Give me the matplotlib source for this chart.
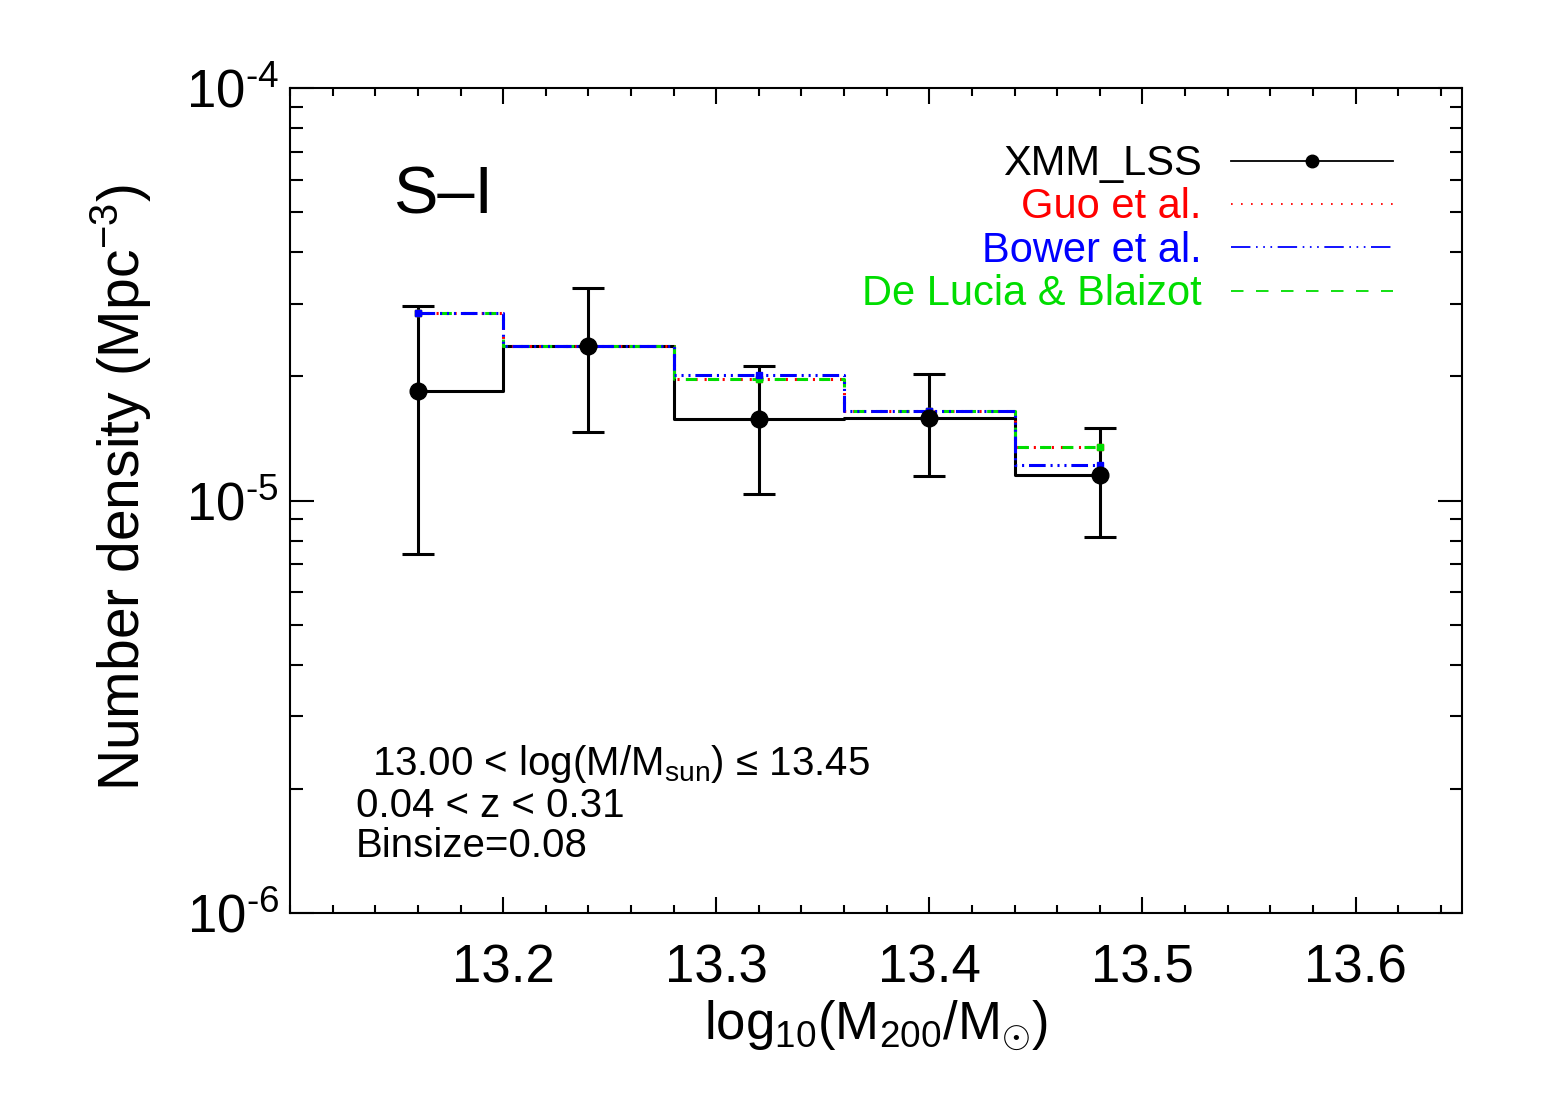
import matplotlib
matplotlib.use('Agg')
import matplotlib.pyplot as plt
from matplotlib.lines import Line2D
from matplotlib.ticker import MultipleLocator, LogLocator, FuncFormatter
import numpy as np

plt.rcParams['font.family'] = ['Liberation Sans', 'DejaVu Sans']
plt.rcParams['mathtext.fontset'] = 'custom'
plt.rcParams['mathtext.rm'] = 'Liberation Sans'
plt.rcParams['mathtext.it'] = 'Liberation Sans'
plt.rcParams['lines.scale_dashes'] = False

# bin centres (log10 M200)
mass = [13.16, 13.24, 13.32, 13.40, 13.48]

# XMM_LSS number density and error bar limits
xmm = [1.843e-5, 2.37e-5, 1.58e-5, 1.582e-5, 1.153e-5]
xmm_hi = [2.96e-5, 3.27e-5, 2.12e-5, 2.03e-5, 1.496e-5]
xmm_lo = [7.41e-6, 1.47e-5, 1.04e-5, 1.147e-5, 8.15e-6]

# semi-analytic models
guo = [2.85e-5, 2.37e-5, 1.97e-5, 1.65e-5, 1.35e-5]
bower = [2.85e-5, 2.37e-5, 2.01e-5, 1.65e-5, 1.217e-5]
delucia = [2.85e-5, 2.37e-5, 1.97e-5, 1.65e-5, 1.35e-5]

labels = ['XMM_LSS', 'Guo et al.', 'Bower et al.', 'De Lucia & Blaizot']
colors = ['black', '#ff0000', '#0000ff', '#00dd00']
xticks = [13.2, 13.3, 13.4, 13.5, 13.6]

fig = plt.figure(figsize=(15.46, 10.99), dpi=100)
ax = fig.add_axes([0.1876, 0.1692, 0.7581, 0.7507])

# XMM histogram with error bars
ax.step(mass, xmm, where='mid', color='black', lw=2.2)
yerr = [np.array(xmm) - np.array(xmm_lo), np.array(xmm_hi) - np.array(xmm)]
ax.errorbar(mass, xmm, yerr=yerr, fmt='o', color='black', ms=12,
            elinewidth=2.2, capsize=11.5, capthick=2.2)

# models
dash_guo = (0, (1.5, 5))
dash_bower = (0, (12, 3.5, 1.5, 3.5, 1.5, 3.5, 1.5, 3.5))
dash_dl = (0, (8, 8))
ax.step(mass, guo, where='mid', color=colors[1], lw=2.2, ls=dash_guo)
ax.plot(mass, guo, 's', color=colors[1], ms=5)
ax.step(mass, delucia, where='mid', color=colors[3], lw=2.2, ls=dash_dl)
ax.plot(mass, delucia, 's', color=colors[3], ms=5)
ax.step(mass, bower, where='mid', color=colors[2], lw=2.2, ls=dash_bower)
ax.plot(mass, bower, 's', color=colors[2], ms=5)

ax.set_yscale('log')
ax.set_xlim(13.1, 13.65)
ax.set_ylim(1e-6, 1e-4)

ax.set_xticks(xticks)
ax.set_xticklabels(['%.1f' % v for v in xticks])
ax.xaxis.set_minor_locator(MultipleLocator(0.02))
ax.yaxis.set_major_locator(LogLocator(base=10))
ax.yaxis.set_major_formatter(FuncFormatter(lambda v, p: r'10$^{\text{%d}}$' % round(np.log10(v))))
ax.yaxis.set_minor_locator(LogLocator(base=10, subs=np.arange(2, 10)))
ax.yaxis.set_minor_formatter(plt.NullFormatter())

for s in ax.spines.values():
    s.set_linewidth(1.5)
ax.tick_params(which='both', direction='in', top=True, right=True, width=1.5)
ax.tick_params(axis='x', which='major', length=11.5, labelsize=38, pad=22)
ax.tick_params(axis='x', which='minor', length=6)
ax.tick_params(axis='y', which='major', length=17.5, labelsize=38, pad=8)
ax.tick_params(axis='y', which='minor', length=9)

ax.set_xlabel(r'log$_{10}$(M$_{200}$/M$_{\odot}$)', fontsize=38, labelpad=4)
ax.set_ylabel(r'Number density (Mpc$^{-3}$)', fontsize=41)
ax.yaxis.set_label_coords(-0.116, 0.515)

ax.text(0.088, 0.868, 'S\u2013I', transform=ax.transAxes, fontsize=48,
        va='center', ha='left')

ax.text(0.07, 0.1673, r'13.00 < log(M/M$_{\rm sun}$) ' + '\u2264 13.45', transform=ax.transAxes,
        fontsize=29, va='baseline')
ax.text(0.056, 0.1164, '0.04 < z < 0.31', transform=ax.transAxes, fontsize=29, va='baseline')
ax.text(0.056, 0.0679, 'Binsize=0.08', transform=ax.transAxes, fontsize=29, va='baseline')

handles = [
    Line2D([], [], color='black', lw=1.3, marker='o', ms=9),
    Line2D([], [], color=colors[1], lw=1.3, ls=(0, (1.2, 6))),
    Line2D([], [], color=colors[2], lw=1.3, ls=(0, (14, 4, 1.2, 4, 1.2, 4, 1.2, 4))),
    Line2D([], [], color=colors[3], lw=1.3, ls=(0, (9, 9))),
]
leg = ax.legend(handles, labels, loc='upper right', bbox_to_anchor=(0.9415, 0.932),
                frameon=False, fontsize=30, markerfirst=False, numpoints=1,
                handlelength=3.9, handletextpad=0.7, labelspacing=0.08,
                borderaxespad=0, borderpad=0)
for t, c in zip(leg.get_texts(), colors):
    t.set_color(c)

fig.savefig('out.png', dpi=100)
